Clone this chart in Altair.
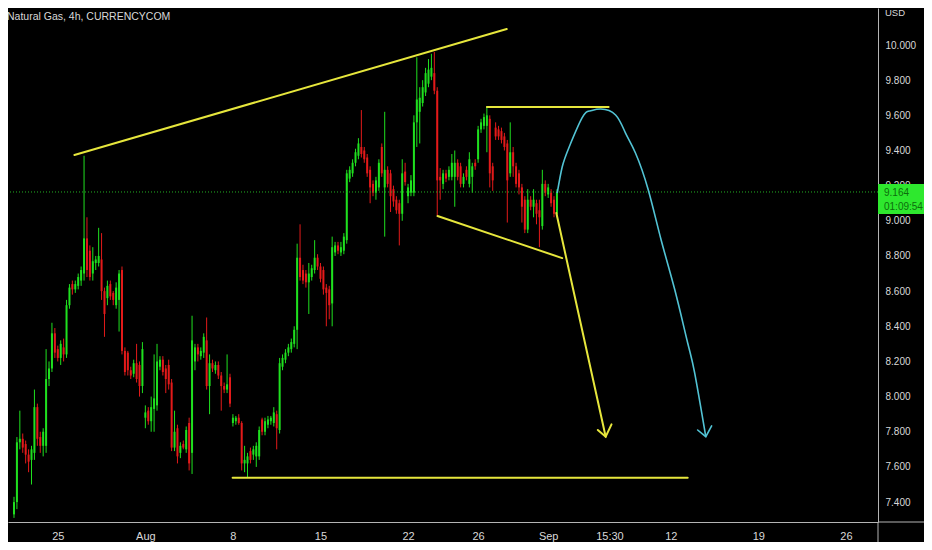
import altair as alt
import pandas as pd

# ---------------- text ----------------
title_text = "Natural Gas, 4h, CURRENCYCOM"
currency = "USD"
last_price = 9.164
countdown = "01:09:54"

# ---------------- 4h candles (index 0 .. 186) ----------------
opens = [7.33, 7.40, 7.74, 7.76, 7.73, 7.67, 7.64, 7.68, 7.94, 7.77,
         7.72, 7.72, 8.10, 8.16, 8.36, 8.27, 8.22, 8.28, 8.24, 8.52,
         8.64, 8.61, 8.63, 8.66, 8.70, 8.90, 8.83, 8.70, 8.76, 8.76,
         8.78, 8.60, 8.56, 8.64, 8.59, 8.52, 8.55, 8.72, 8.26, 8.25,
         8.15, 8.13, 8.19, 8.18, 8.06, 7.88, 7.92, 7.86, 7.93, 7.95,
         8.17, 8.21, 8.16, 8.18, 8.08, 7.71, 7.82, 7.68, 7.73, 7.70,
         7.85, 7.68, 8.20, 8.28, 8.23, 8.25, 8.32, 8.06, 8.19, 8.15,
         8.18, 8.12, 8.06, 8.04, 8.11, 7.85, 7.86, 7.88, 7.85, 7.62,
         7.62, 7.69, 7.67, 7.66, 7.66, 7.87, 7.80, 7.84, 7.86, 7.85,
         7.90, 7.81, 8.17, 8.21, 8.25, 8.27, 8.30, 8.38, 8.79, 8.72,
         8.70, 8.65, 8.68, 8.72, 8.79, 8.74, 8.72, 8.62, 8.61, 8.53,
         8.82, 8.86, 8.82, 8.83, 8.89, 9.24, 9.27, 9.33, 9.37, 9.42,
         9.40, 9.36, 9.29, 9.21, 9.16, 9.19, 9.42, 9.19, 9.29, 9.27,
         9.18, 9.12, 9.10, 9.04, 9.28, 9.14, 9.16, 9.16, 9.56, 9.62,
         9.67, 9.73, 9.78, 9.82, 9.84, 9.74, 9.25, 9.21, 9.27, 9.25,
         9.25, 9.25, 9.33, 9.31, 9.21, 9.29, 9.21, 9.25, 9.33, 9.35,
         9.52, 9.54, 9.54, 9.58, 9.31, 9.53, 9.52, 9.51, 9.48, 9.44,
         9.27, 9.39, 9.31, 9.27, 9.19, 9.12, 8.95, 9.12, 9.08, 9.10,
         9.06, 8.97, 9.21, 9.15, 9.16, 9.12, 9.04]
highs = [7.43, 7.77, 7.92, 7.79, 7.75, 7.70, 7.72, 8.04, 7.96, 7.80,
         7.82, 8.27, 8.20, 8.42, 8.39, 8.29, 8.32, 8.33, 8.55, 8.64,
         8.66, 8.66, 8.70, 8.74, 9.37, 9.02, 8.86, 8.85, 8.80, 8.96,
         8.93, 8.62, 8.66, 8.66, 8.60, 8.65, 8.72, 8.74, 8.28, 8.26,
         8.17, 8.21, 8.30, 8.20, 8.31, 7.95, 7.94, 8.00, 8.24, 8.30,
         8.23, 8.23, 8.18, 8.21, 8.10, 7.92, 7.84, 7.74, 7.75, 7.83,
         7.88, 8.46, 8.30, 8.30, 8.28, 8.36, 8.45, 8.24, 8.21, 8.20,
         8.20, 8.14, 8.08, 8.24, 8.13, 7.90, 7.89, 7.90, 7.86, 7.72,
         7.68, 7.71, 7.72, 7.74, 7.83, 7.88, 7.88, 7.89, 7.89, 7.94,
         7.92, 8.22, 8.24, 8.27, 8.30, 8.33, 8.40, 8.87, 8.98, 8.75,
         8.72, 8.76, 8.75, 8.89, 8.81, 8.76, 8.74, 8.64, 8.63, 8.91,
         8.88, 8.88, 8.88, 8.93, 9.29, 9.31, 9.35, 9.41, 9.47, 9.63,
         9.42, 9.38, 9.31, 9.23, 9.25, 9.35, 9.44, 9.62, 9.31, 9.29,
         9.20, 9.14, 9.12, 9.35, 9.33, 9.21, 9.26, 9.60, 9.93, 9.76,
         9.80, 9.87, 9.92, 9.95, 9.96, 9.76, 9.30, 9.29, 9.29, 9.31,
         9.38, 9.40, 9.35, 9.33, 9.27, 9.31, 9.39, 9.33, 9.35, 9.54,
         9.58, 9.61, 9.65, 9.60, 9.33, 9.56, 9.54, 9.53, 9.50, 9.46,
         9.56, 9.42, 9.33, 9.29, 9.21, 9.14, 9.18, 9.14, 9.18, 9.12,
         9.12, 9.29, 9.23, 9.21, 9.18, 9.14, 9.18]
lows = [7.31, 7.36, 7.70, 7.68, 7.62, 7.57, 7.50, 7.64, 7.72, 7.68,
        7.66, 7.68, 8.06, 8.14, 8.22, 8.20, 8.18, 8.20, 8.22, 8.50,
        8.58, 8.59, 8.61, 8.63, 8.66, 8.68, 8.66, 8.66, 8.72, 8.74,
        8.55, 8.34, 8.52, 8.55, 8.52, 8.50, 8.37, 8.24, 8.12, 8.12,
        8.10, 8.11, 8.08, 8.00, 8.02, 7.82, 7.84, 7.80, 7.80, 7.92,
        8.15, 8.12, 8.02, 8.04, 7.69, 7.69, 7.62, 7.65, 7.70, 7.68,
        7.58, 7.56, 8.15, 8.20, 8.21, 8.22, 8.04, 7.90, 8.14, 8.13,
        8.10, 7.92, 8.02, 8.02, 7.94, 7.83, 7.84, 7.84, 7.58, 7.57,
        7.54, 7.62, 7.64, 7.60, 7.64, 7.78, 7.78, 7.82, 7.84, 7.83,
        7.70, 7.79, 8.15, 8.19, 8.23, 8.25, 8.28, 8.27, 8.66, 8.64,
        8.62, 8.47, 8.66, 8.70, 8.72, 8.65, 8.58, 8.40, 8.44, 8.40,
        8.80, 8.81, 8.80, 8.81, 8.87, 9.22, 9.25, 9.31, 9.35, 9.36,
        9.33, 9.25, 9.10, 9.14, 9.12, 9.17, 9.25, 8.91, 9.19, 9.05,
        9.08, 9.04, 8.86, 9.00, 9.20, 9.10, 9.14, 9.14, 9.42, 9.44,
        9.65, 9.71, 9.76, 9.80, 9.72, 9.03, 9.12, 9.18, 9.22, 9.23,
        9.23, 9.08, 9.23, 9.19, 9.19, 9.23, 9.19, 9.16, 9.29, 9.33,
        9.50, 9.52, 9.39, 9.19, 9.17, 9.46, 9.46, 9.44, 9.40, 8.99,
        9.25, 9.25, 9.19, 9.15, 8.99, 8.93, 8.93, 9.06, 9.02, 8.98,
        8.85, 8.95, 9.14, 9.13, 9.08, 9.02, 9.02]
closes = [7.40, 7.74, 7.76, 7.71, 7.67, 7.63, 7.70, 7.94, 7.76, 7.72,
          7.80, 8.10, 8.16, 8.36, 8.25, 8.22, 8.30, 8.24, 8.52, 8.62,
          8.61, 8.64, 8.68, 8.72, 8.90, 8.72, 8.68, 8.77, 8.78, 8.80,
          8.60, 8.47, 8.63, 8.57, 8.55, 8.62, 8.70, 8.26, 8.14, 8.15,
          8.12, 8.19, 8.10, 8.06, 8.27, 7.91, 7.86, 7.94, 7.99, 8.20,
          8.21, 8.14, 8.10, 8.07, 7.71, 7.80, 7.66, 7.72, 7.71, 7.81,
          7.62, 8.32, 8.28, 8.24, 8.26, 8.34, 8.06, 8.19, 8.16, 8.18,
          8.12, 8.06, 8.04, 8.07, 7.96, 7.88, 7.88, 7.85, 7.62, 7.64,
          7.66, 7.64, 7.70, 7.72, 7.81, 7.80, 7.86, 7.87, 7.88, 7.91,
          7.82, 8.19, 8.22, 8.25, 8.28, 8.31, 8.38, 8.79, 8.68, 8.66,
          8.65, 8.70, 8.73, 8.79, 8.74, 8.67, 8.61, 8.59, 8.52, 8.85,
          8.86, 8.83, 8.85, 8.91, 9.27, 9.29, 9.33, 9.39, 9.44, 9.38,
          9.35, 9.27, 9.19, 9.16, 9.23, 9.33, 9.27, 9.29, 9.21, 9.14,
          9.11, 9.06, 9.04, 9.27, 9.22, 9.19, 9.23, 9.56, 9.69, 9.70,
          9.76, 9.84, 9.86, 9.87, 9.74, 9.23, 9.23, 9.27, 9.24, 9.29,
          9.33, 9.33, 9.25, 9.21, 9.25, 9.25, 9.35, 9.31, 9.31, 9.52,
          9.56, 9.59, 9.60, 9.27, 9.23, 9.48, 9.48, 9.46, 9.42, 9.23,
          9.39, 9.31, 9.21, 9.19, 9.08, 8.95, 9.12, 9.08, 9.12, 9.04,
          9.02, 9.21, 9.16, 9.19, 9.10, 9.04, 9.164]

# ---------------- axes ----------------
x_tick_pos = [15, 45, 75, 105, 135, 159, 183, 204, 225, 255, 285]
x_tick_lab = ["25", "Aug", "8", "15", "22", "26", "Sep", "15:30", "12", "19", "26"]
y_ticks = [7.4, 7.6, 7.8, 8.0, 8.2, 8.4, 8.6, 8.8, 9.0, 9.2, 9.4, 9.6, 9.8, 10.0]
x_domain = [-0.34, 294.28]
p_domain = [7.2867, 10.2105]

# ---------------- drawings (bar index, price) ----------------
upper_x = [20.7, 168.8]
upper_p = [9.374, 10.091]
wedge_x = [145.1, 187.8]
wedge_p = [9.027, 8.788]
top_x = [162.0, 203.7]
top_p = [9.647, 9.647]
floor_x = [74.9, 230.8]
floor_p = [7.539, 7.539]
down_x = [185.8, 202.7]
down_p = [9.044, 7.772]
down_head_x = [200.0, 202.7, 204.7]
down_head_p = [7.810, 7.772, 7.842]
arc_x = [186.1, 187.8, 190.2, 194.6, 197.3, 201.0, 206.1, 209.5, 212.9,
         217.3, 221.7, 226.4, 230.8, 233.2, 237.0]
arc_p = [9.158, 9.306, 9.420, 9.585, 9.625, 9.636, 9.602, 9.499, 9.386,
         9.175, 8.891, 8.606, 8.305, 8.134, 7.772]
arc_head_x = [234.2, 237.0, 239.0]
arc_head_p = [7.810, 7.772, 7.833]

# ---------------- style ----------------
GREEN = "#1fe01f"
RED = "#e31a1a"
YELLOW = "#e6e63c"
CYAN = "#52c3d4"
TXT = "#d8d8d8"
AXIS = "#b4b4b4"
PRICE_LINE = "#22b022"
BOX = "#2ee82e"
BOX_TXT = "#0c6e0c"
FONT = "Liberation Sans, Arial, sans-serif"

W, H = 870, 514
RP = 46  # right axis strip

df = pd.DataFrame({"i": list(range(len(closes))), "open": opens, "high": highs,
                   "low": lows, "close": closes})
df["dir"] = ["up" if c >= o else "down" for o, c in zip(opens, closes)]

xs = alt.Scale(domain=x_domain, nice=False, zero=False)
ys = alt.Scale(domain=p_domain, nice=False, zero=False)
col = alt.Color("dir:N", scale=alt.Scale(domain=["up", "down"], range=[GREEN, RED]), legend=None)

label_expr = "''"
for pos, lab in reversed(list(zip(x_tick_pos, x_tick_lab))):
    label_expr = f"datum.value == {pos} ? '{lab}' : ({label_expr})"

x_axis = alt.Axis(values=x_tick_pos, labelExpr=label_expr, title=None, grid=False, ticks=False,
                  labelPadding=8, domainColor=AXIS, labelColor=TXT, labelFontSize=11,
                  labelFont=FONT, labelOverlap=False, labelFlush=False)
y_axis = alt.Axis(orient="right", values=y_ticks, format=".3f", title=None, grid=False, ticks=False,
                  labelPadding=7, labelAlign="left", domainColor=AXIS, labelColor=TXT,
                  labelFontSize=10, labelFont=FONT)


def X(f):
    return alt.X(f, scale=xs, axis=x_axis)


def Y(f):
    return alt.Y(f, scale=ys, axis=y_axis)


base = alt.Chart(df)
wicks = base.mark_rule(strokeWidth=1).encode(x=X("i:Q"), y=Y("low:Q"), y2="high:Q", color=col)
bodies = base.mark_bar(size=2).encode(x=X("i:Q"), y=Y("open:Q"), y2="close:Q", color=col)

price_line = alt.Chart(pd.DataFrame({"p": [last_price]})).mark_rule(
    color=PRICE_LINE, strokeDash=[1, 2], strokeWidth=1
).encode(y=Y("p:Q"))


def long_frame(sets):
    rows = []
    for name, xv, pv in sets:
        for k, (a, b) in enumerate(zip(xv, pv)):
            rows.append({"seg": name, "k": k, "i": a, "p": b})
    return pd.DataFrame(rows)


yellow_df = long_frame([("upper", upper_x, upper_p), ("wedge", wedge_x, wedge_p),
                        ("top", top_x, top_p), ("floor", floor_x, floor_p),
                        ("down", down_x, down_p), ("head", down_head_x, down_head_p)])
yellow = alt.Chart(yellow_df).mark_line(color=YELLOW, strokeWidth=2, strokeCap="round").encode(
    x=X("i:Q"), y=Y("p:Q"), detail="seg:N", order="k:Q")

arc_df = long_frame([("arc", arc_x, arc_p)])
arc = alt.Chart(arc_df).mark_line(color=CYAN, strokeWidth=1.6, interpolate="natural").encode(
    x=X("i:Q"), y=Y("p:Q"), order="k:Q")
arc_head = alt.Chart(long_frame([("ah", arc_head_x, arc_head_p)])).mark_line(
    color=CYAN, strokeWidth=1.6, strokeCap="round").encode(x=X("i:Q"), y=Y("p:Q"), order="k:Q")

one = pd.DataFrame({"t": [title_text], "u": [currency], "lp": [f"{last_price:.3f}"], "cd": [countdown]})
title = alt.Chart(one).mark_text(align="left", baseline="middle", font=FONT, fontSize=10.5,
                                 color=TXT).encode(x=alt.value(-1), y=alt.value(9), text="t:N")
usd = alt.Chart(one).mark_text(align="left", baseline="middle", font=FONT, fontSize=9.5,
                               color=TXT).encode(x=alt.value(W + 7), y=alt.value(5), text="u:N")
box = alt.Chart(one).mark_rect(color=BOX).encode(
    x=alt.value(W), x2=alt.value(W + RP), y=alt.value(176), y2=alt.value(206))
box_price = alt.Chart(one).mark_text(align="left", baseline="middle", font=FONT, fontSize=10,
                                     color=BOX_TXT).encode(x=alt.value(W + 6), y=alt.value(185), text="lp:N")
box_cd = alt.Chart(one).mark_text(align="left", baseline="middle", font=FONT, fontSize=10,
                                  color=BOX_TXT).encode(x=alt.value(W + 6), y=alt.value(199), text="cd:N")
h_ext = alt.Chart(one).mark_rule(color=AXIS, strokeWidth=1).encode(
    x=alt.value(W), x2=alt.value(W + RP), y=alt.value(H))
v_ext = alt.Chart(one).mark_rule(color=AXIS, strokeWidth=1).encode(
    x=alt.value(W), y=alt.value(H), y2=alt.value(H + 22))

chart = alt.layer(
    wicks, bodies, price_line, yellow, arc, arc_head,
    title, usd, box, box_price, box_cd, h_ext, v_ext
).properties(
    width=W, height=H,
    autosize=alt.AutoSizeParams(type="none"),
    padding={"left": 0, "top": 0, "right": RP, "bottom": 20},
).configure(background="#000000").configure_view(stroke=None)

chart.save("out.html", embed_options={"renderer": "svg", "actions": False})
